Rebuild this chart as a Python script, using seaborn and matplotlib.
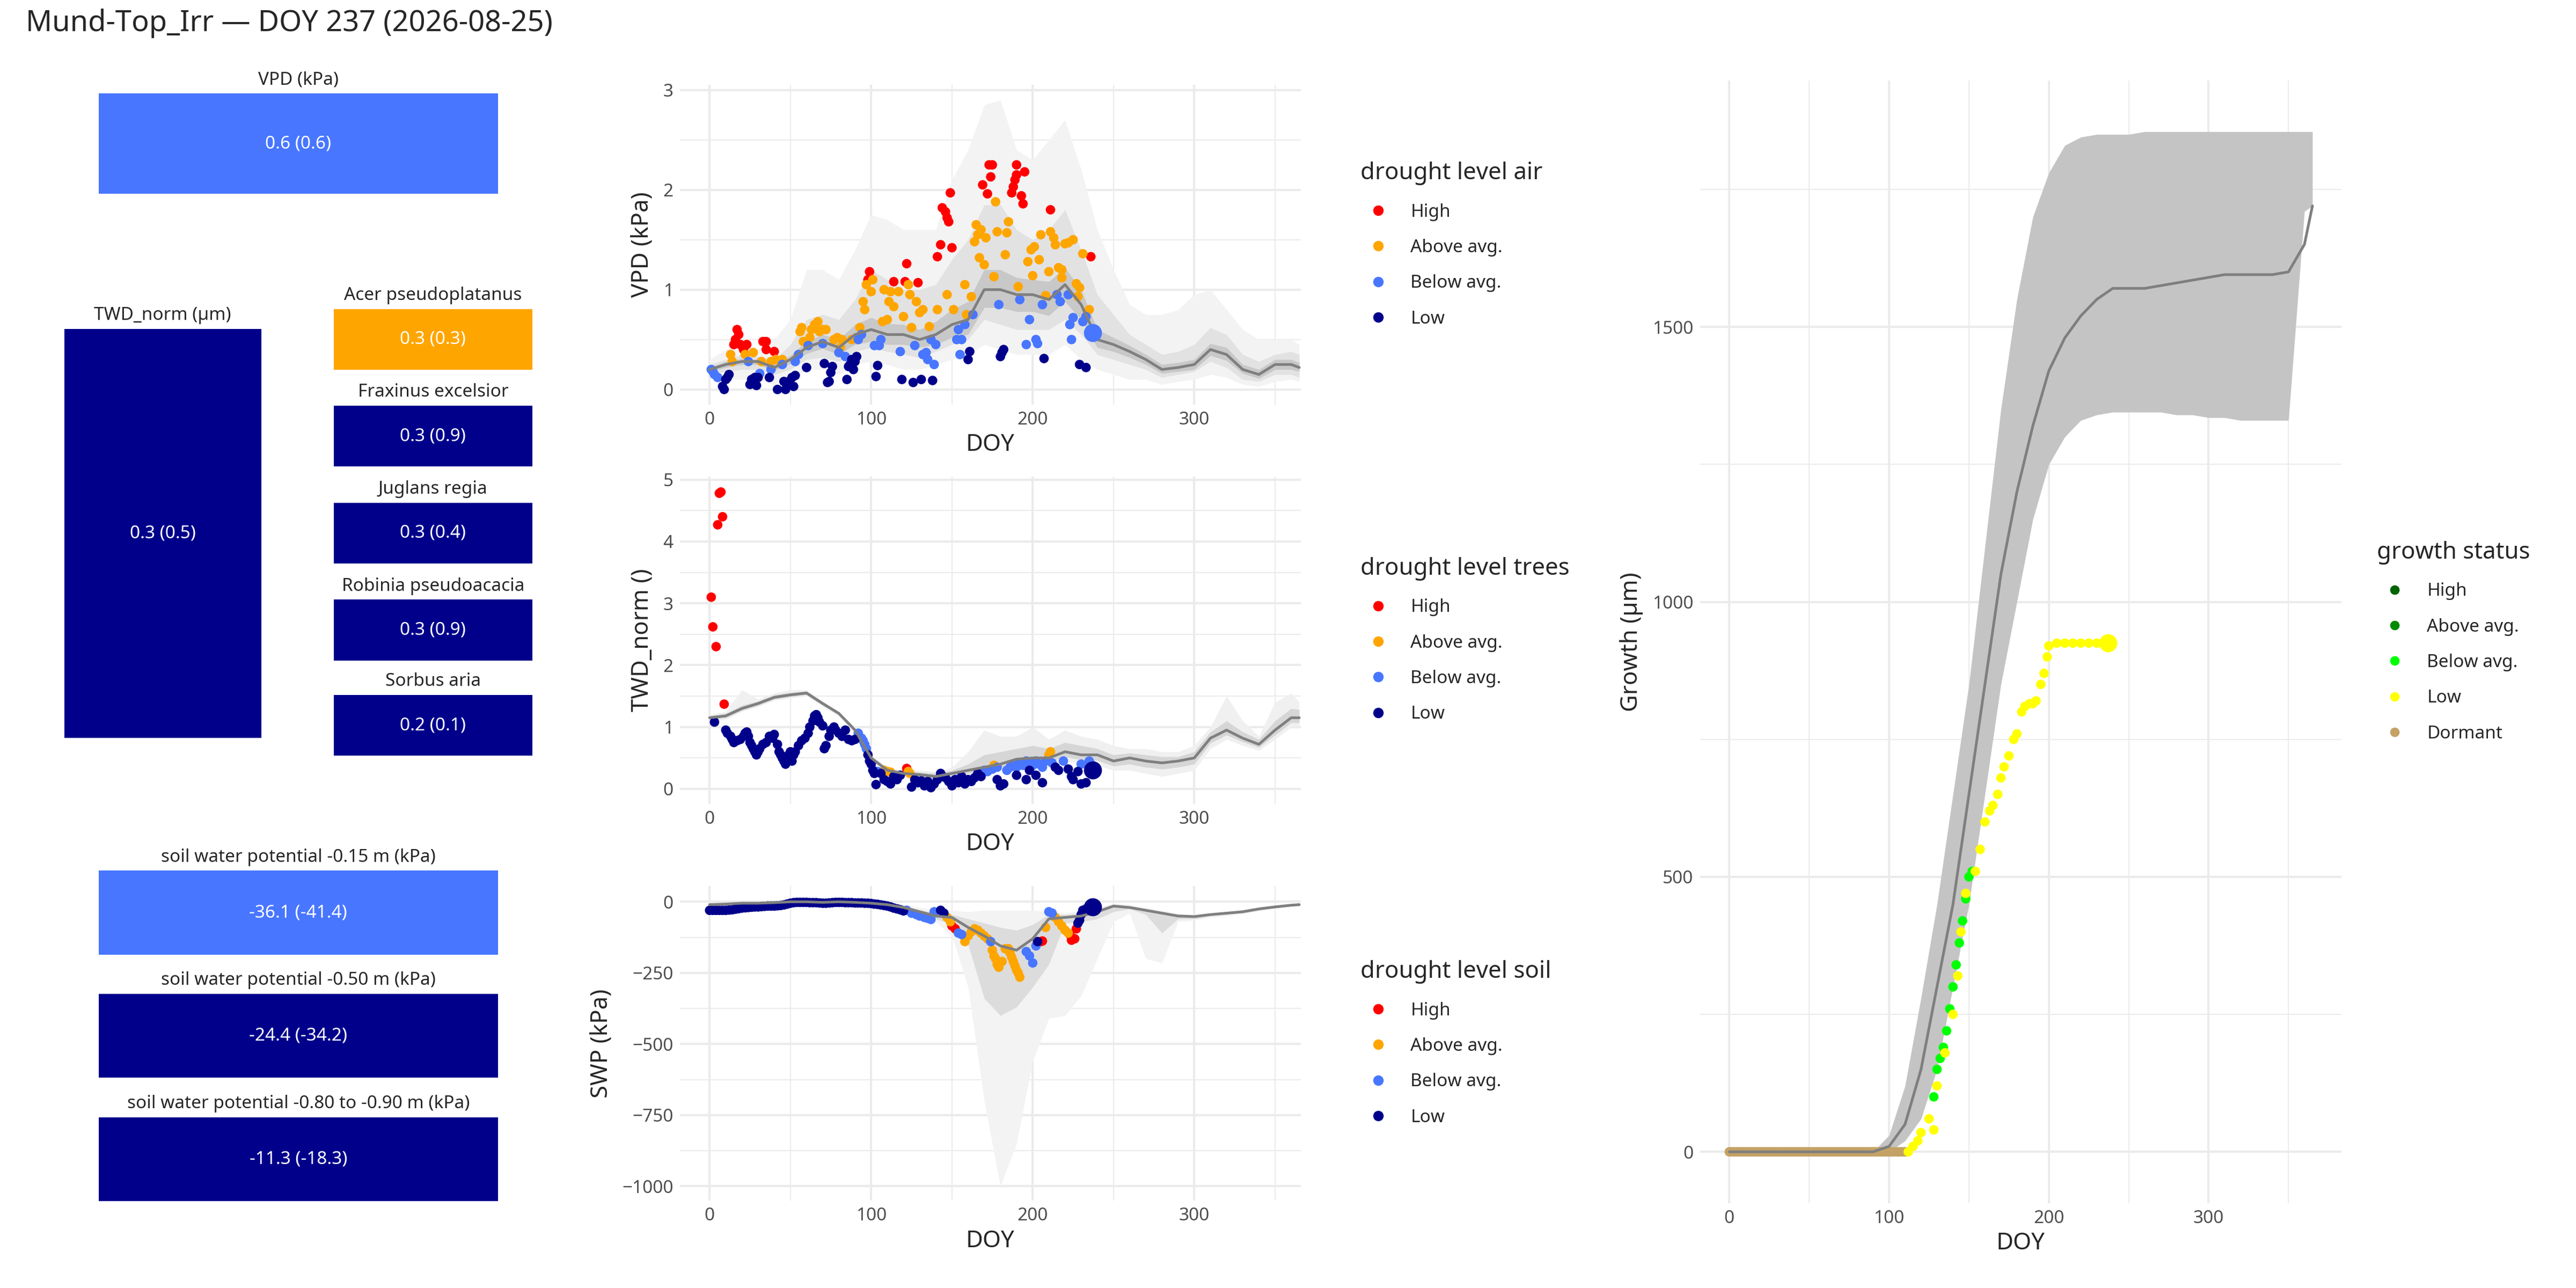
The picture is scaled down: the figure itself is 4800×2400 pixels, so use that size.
import matplotlib
matplotlib.use('Agg')
import matplotlib.pyplot as plt
import numpy as np
import pandas as pd
import seaborn as sns
from matplotlib.ticker import MultipleLocator

sns.set_theme(style='white')
plt.rcParams['font.family'] = ['Noto Sans', 'DejaVu Sans']

LEVELS = ['High', 'Above avg.', 'Below avg.', 'Low']
LEVEL_COLORS = dict(zip(LEVELS, ['#ff0000', '#ffa500', '#4876ff', '#00008b']))
GROWTH_LEVELS = ['High', 'Above avg.', 'Below avg.', 'Low', 'Dormant']
GROWTH_COLORS = dict(zip(GROWTH_LEVELS, ['#006400', '#008b00', '#00ff00', '#ffff00', '#c4a265']))

# ---------------------------------------------------------------------------
# climatology grid (DOY) and envelopes
# ---------------------------------------------------------------------------
grid_doy = [0, 10, 20, 30, 40, 50, 60, 70, 80, 90, 100, 110, 120, 130, 140, 150, 160, 170, 180,
            190, 200, 210, 220, 230, 240, 250, 260, 270, 280, 290, 300, 310, 320, 330, 340, 350, 360, 365]

vpd_mean = [0.2, 0.25, 0.28, 0.28, 0.22, 0.3, 0.42, 0.48, 0.42, 0.55, 0.6, 0.55, 0.55, 0.5, 0.55, 0.65, 0.7,
            1.0, 1.0, 0.95, 0.95, 0.9, 1.05, 0.85, 0.5, 0.45, 0.38, 0.3, 0.2, 0.22, 0.25, 0.4, 0.35, 0.2,
            0.15, 0.25, 0.25, 0.22]
vpd_outer_hi = [0.3, 0.4, 0.45, 0.4, 0.5, 0.7, 1.2, 1.2, 1.1, 1.4, 1.75, 1.7, 1.6, 1.6, 1.6, 2.1, 2.4, 2.85,
                2.9, 2.4, 2.3, 2.5, 2.7, 2.2, 1.6, 1.2, 0.85, 0.75, 0.75, 0.8, 0.95, 1.0, 0.8, 0.6, 0.5,
                0.5, 0.5, 0.45]
vpd_outer_lo = [0.12, 0.1, 0.1, 0.1, 0.05, 0.1, 0.2, 0.2, 0.15, 0.25, 0.28, 0.25, 0.2, 0.2, 0.25, 0.3, 0.35,
                0.45, 0.4, 0.35, 0.35, 0.35, 0.45, 0.3, 0.2, 0.15, 0.1, 0.1, 0.05, 0.08, 0.1, 0.15, 0.12,
                0.05, 0.03, 0.08, 0.1, 0.08]
vpd_mid_hi = [0.25, 0.3, 0.35, 0.33, 0.3, 0.45, 0.7, 0.75, 0.7, 0.9, 1.2, 1.1, 1.0, 1.0, 1.05, 1.3, 1.5, 1.85,
              1.85, 1.6, 1.5, 1.6, 1.8, 1.4, 0.95, 0.75, 0.55, 0.45, 0.35, 0.38, 0.45, 0.62, 0.55, 0.35,
              0.28, 0.35, 0.38, 0.35]
vpd_mid_lo = [0.15, 0.18, 0.2, 0.2, 0.15, 0.2, 0.3, 0.32, 0.28, 0.38, 0.42, 0.38, 0.35, 0.32, 0.38, 0.45, 0.5,
              0.7, 0.65, 0.6, 0.6, 0.6, 0.7, 0.55, 0.35, 0.3, 0.25, 0.2, 0.12, 0.15, 0.18, 0.28, 0.22, 0.1,
              0.08, 0.15, 0.15, 0.12]
vpd_inner_hi = [0.22, 0.28, 0.31, 0.3, 0.25, 0.34, 0.48, 0.55, 0.5, 0.65, 0.72, 0.66, 0.65, 0.6, 0.68, 0.8,
                0.88, 1.2, 1.2, 1.12, 1.1, 1.08, 1.22, 1.0, 0.6, 0.52, 0.44, 0.35, 0.25, 0.27, 0.3, 0.46,
                0.42, 0.25, 0.2, 0.3, 0.3, 0.27]
vpd_inner_lo = [0.18, 0.22, 0.25, 0.25, 0.19, 0.26, 0.36, 0.41, 0.35, 0.45, 0.48, 0.45, 0.45, 0.42, 0.45,
                0.52, 0.55, 0.82, 0.82, 0.78, 0.78, 0.74, 0.88, 0.7, 0.42, 0.38, 0.32, 0.25, 0.16, 0.18,
                0.2, 0.34, 0.29, 0.16, 0.11, 0.2, 0.2, 0.18]

twd_mean = [1.15, 1.18, 1.3, 1.38, 1.48, 1.52, 1.55, 1.38, 1.22, 0.95, 0.5, 0.3, 0.25, 0.23, 0.2, 0.25, 0.3,
            0.35, 0.4, 0.48, 0.5, 0.5, 0.6, 0.55, 0.55, 0.45, 0.5, 0.45, 0.42, 0.45, 0.5, 0.82, 0.95, 0.82,
            0.72, 0.95, 1.15, 1.15]
twd_outer_hi = [1.2, 1.25, 1.6, 1.45, 1.55, 1.6, 1.6, 1.42, 1.25, 1.0, 0.55, 0.35, 0.3, 0.3, 0.28, 0.35, 0.6,
                0.95, 0.85, 0.85, 1.0, 0.8, 0.95, 0.85, 0.8, 0.7, 0.65, 0.65, 0.6, 0.6, 0.7, 1.0, 1.5, 1.1,
                0.85, 1.4, 1.55, 1.4]
twd_outer_lo = [1.1, 1.12, 1.25, 1.33, 1.43, 1.47, 1.5, 1.33, 1.17, 0.9, 0.45, 0.25, 0.2, 0.15, 0.12, 0.15,
                0.2, 0.25, 0.3, 0.35, 0.35, 0.35, 0.45, 0.4, 0.38, 0.3, 0.3, 0.25, 0.2, 0.25, 0.3, 0.65, 0.8,
                0.7, 0.62, 0.8, 1.0, 1.0]
twd_mid_hi = [1.18, 1.22, 1.35, 1.42, 1.52, 1.56, 1.58, 1.4, 1.24, 0.98, 0.52, 0.32, 0.28, 0.27, 0.25, 0.3,
              0.4, 0.55, 0.6, 0.65, 0.7, 0.65, 0.75, 0.7, 0.65, 0.55, 0.58, 0.55, 0.52, 0.52, 0.6, 0.92, 1.1,
              0.92, 0.8, 1.1, 1.3, 1.28]
twd_mid_lo = [1.12, 1.15, 1.27, 1.35, 1.45, 1.49, 1.52, 1.35, 1.2, 0.92, 0.48, 0.27, 0.22, 0.19, 0.16, 0.2,
              0.25, 0.3, 0.35, 0.42, 0.43, 0.43, 0.52, 0.47, 0.46, 0.37, 0.4, 0.35, 0.32, 0.35, 0.4, 0.74,
              0.87, 0.76, 0.67, 0.87, 1.07, 1.07]

swp_mean = [-10, -8, -5, -5, -3, 0, 0, -2, 0, -2, -5, -10, -20, -35, -50, -55, -90, -120, -155, -170, -130,
            -60, -55, -50, -35, -15, -20, -30, -40, -50, -52, -45, -40, -35, -25, -18, -12, -10]
swp_outer_hi = [-2, -2, 0, 0, 0, 0, 0, 0, 0, 0, -2, -5, -10, -20, -28, -30, -35, -30, -30, -30, -30, -35,
                -40, -30, -20, -5, -10, -20, -30, -40, -45, -40, -35, -28, -20, -12, -8, -6]
swp_outer_lo = [-15, -12, -10, -10, -8, -5, -5, -6, -5, -6, -10, -15, -30, -45, -70, -120, -300, -700,
                -1000, -850, -560, -410, -400, -330, -200, -70, -40, -200, -215, -70, -65, -55, -50, -42,
                -32, -25, -18, -15]
swp_mid_hi = [-5, -4, -2, -2, -1, 0, 0, 0, 0, 0, -3, -7, -15, -28, -40, -45, -60, -75, -90, -100, -80,
              -45, -45, -40, -28, -10, -15, -25, -35, -45, -48, -42, -38, -32, -22, -15, -10, -8]
swp_mid_lo = [-13, -11, -8, -8, -6, -3, -3, -4, -3, -4, -8, -13, -25, -42, -60, -80, -150, -340, -400,
              -370, -300, -220, -75, -70, -60, -35, -25, -45, -110, -60, -60, -50, -45, -40, -30, -22, -15,
              -12]

# ---------------------------------------------------------------------------
# current year observations (DOY, value) per drought level
# ---------------------------------------------------------------------------
vpd_high = [(17, 0.6), (18, 0.55), (16, 0.5), (15, 0.45), (19, 0.45), (21, 0.4), (23, 0.45), (33, 0.48),
            (35, 0.48), (35, 0.4), (40, 0.38), (98, 1.1), (99, 1.18), (114, 1.08), (122, 1.26), (121, 1.08),
            (129, 1.07), (141, 1.33), (143, 1.45), (144, 1.82), (146, 1.78), (147, 1.72), (148, 1.68),
            (149, 1.97), (150, 1.42), (169, 2.05), (172, 1.96), (173, 2.25), (174, 2.13), (175, 2.25),
            (187, 1.97), (188, 2.03), (189, 2.1), (190, 2.15), (190, 2.25), (193, 1.94), (194, 1.86),
            (195, 2.18), (211, 1.8), (236, 1.33)]
vpd_above = [(13, 0.35), (14, 0.28), (22, 0.35), (27, 0.37), (32, 0.28), (38, 0.28), (41, 0.3), (45, 0.3),
             (56, 0.58), (57, 0.62), (58, 0.48), (62, 0.52), (63, 0.6), (65, 0.65), (67, 0.68), (68, 0.58),
             (70, 0.6), (72, 0.6), (77, 0.5), (79, 0.52), (81, 0.42), (82, 0.5), (88, 0.5), (93, 0.62),
             (95, 0.88), (96, 0.8), (97, 1.05), (100, 0.98), (101, 1.1), (107, 0.68), (108, 1.0), (110, 0.7),
             (111, 0.88), (112, 0.98), (114, 0.83), (117, 0.98), (120, 0.73), (123, 1.05), (124, 0.95),
             (125, 0.62), (128, 0.88), (130, 0.77), (132, 0.8), (136, 0.63), (141, 0.8), (147, 0.95),
             (151, 0.8), (158, 1.05), (159, 0.75), (162, 0.93), (164, 1.48), (165, 1.65), (166, 1.55),
             (167, 1.32), (168, 1.6), (170, 1.25), (171, 1.52), (176, 1.13), (177, 1.88), (178, 1.58),
             (183, 1.35), (184, 1.57), (185, 1.68), (191, 1.03), (197, 1.28), (199, 1.4), (200, 1.14),
             (201, 1.43), (204, 1.3), (205, 1.55), (208, 0.94), (210, 1.18), (211, 1.58), (213, 1.52),
             (214, 1.45), (216, 1.22), (218, 1.2), (218, 1.12), (220, 1.46), (222, 1.47), (225, 1.5),
             (227, 1.06), (228, 0.93), (229, 1.02), (231, 1.36), (235, 0.8)]
vpd_below = [(1, 0.2), (2, 0.18), (3, 0.15), (5, 0.12), (24, 0.28), (31, 0.16), (38, 0.2), (45, 0.25),
             (53, 0.28), (55, 0.35), (61, 0.44), (70, 0.46), (80, 0.37), (84, 0.33), (92, 0.5), (94, 0.55),
             (102, 0.44), (105, 0.44), (106, 0.5), (118, 0.38), (127, 0.44), (132, 0.35), (134, 0.37),
             (135, 0.3), (137, 0.5), (139, 0.25), (140, 0.45), (153, 0.5), (154, 0.6), (155, 0.35),
             (156, 0.5), (158, 0.65), (163, 0.75), (179, 0.85), (192, 0.9), (196, 0.45), (198, 0.7),
             (202, 0.5), (203, 0.46), (206, 0.85), (215, 0.95), (217, 0.88), (222, 0.95), (223, 0.65),
             (224, 0.5), (225, 0.72), (231, 0.68), (233, 0.73)]
vpd_low = [(8, 0.03), (9, 0.0), (10, 0.1), (11, 0.12), (12, 0.15), (25, 0.05), (26, 0.1), (28, 0.12),
           (29, 0.04), (30, 0.12), (37, 0.12), (42, 0.0), (46, 0.08), (47, 0.0), (49, 0.08), (51, 0.12),
           (52, 0.03), (53, 0.14), (60, 0.22), (71, 0.26), (73, 0.07), (74, 0.08), (75, 0.17), (76, 0.23),
           (85, 0.1), (86, 0.23), (87, 0.25), (88, 0.3), (89, 0.2), (90, 0.28), (91, 0.33), (103, 0.13),
           (104, 0.24), (119, 0.1), (126, 0.07), (131, 0.1), (138, 0.09), (160, 0.3), (161, 0.38),
           (180, 0.33), (181, 0.37), (182, 0.4), (207, 0.31), (229, 0.25), (233, 0.22)]
vpd_today = (237, 0.57, 'Below avg.')

twd_high = [(1, 3.1), (2, 2.62), (4, 2.3), (5, 4.27), (6, 4.78), (7, 4.8), (8, 4.4), (9, 1.37), (122, 0.33)]
twd_above = [(108, 0.3), (110, 0.28), (112, 0.27), (123, 0.28), (124, 0.25), (176, 0.38), (210, 0.55),
             (211, 0.6)]
twd_below = [(92, 0.9), (94, 0.82), (95, 0.78), (96, 0.72), (97, 0.65), (104, 0.28), (170, 0.3), (172, 0.28),
             (175, 0.32), (178, 0.35), (184, 0.3), (186, 0.35), (188, 0.38), (190, 0.35), (192, 0.42),
             (194, 0.38), (196, 0.45), (198, 0.42), (200, 0.38), (202, 0.45), (204, 0.4), (206, 0.35),
             (208, 0.45), (212, 0.42), (219, 0.45), (230, 0.4), (235, 0.45), (236, 0.4)]
twd_low = [(3, 1.08), (10, 0.95), (11, 0.9), (13, 0.85), (14, 0.8), (15, 0.75), (17, 0.78), (19, 0.8),
           (21, 0.85), (22, 0.9), (23, 0.92), (24, 0.85), (25, 0.75), (26, 0.7), (27, 0.65), (28, 0.6),
           (29, 0.55), (30, 0.6), (31, 0.65), (33, 0.72), (35, 0.75), (37, 0.85), (39, 0.82), (40, 0.88),
           (42, 0.72), (43, 0.6), (44, 0.55), (45, 0.5), (46, 0.45), (47, 0.4), (48, 0.5), (49, 0.55),
           (50, 0.6), (51, 0.45), (52, 0.55), (53, 0.6), (55, 0.7), (57, 0.78), (59, 0.82), (61, 0.9),
           (62, 1.0), (64, 1.1), (65, 1.18), (66, 1.2), (67, 1.15), (68, 1.08), (70, 1.02), (71, 0.65),
           (72, 0.7), (74, 0.85), (75, 0.95), (77, 1.0), (78, 0.95), (80, 0.9), (82, 0.85), (84, 0.95),
           (86, 0.8), (88, 0.78), (90, 0.8), (98, 0.55), (99, 0.45), (100, 0.4), (101, 0.3), (102, 0.25),
           (103, 0.07), (106, 0.25), (108, 0.15), (110, 0.12), (112, 0.08), (114, 0.2), (116, 0.15),
           (118, 0.22), (125, 0.03), (127, 0.15), (129, 0.1), (131, 0.13), (133, 0.05), (135, 0.12),
           (137, 0.02), (139, 0.08), (141, 0.15), (143, 0.25), (146, 0.18), (148, 0.12), (150, 0.05),
           (152, 0.15), (154, 0.1), (156, 0.2), (158, 0.08), (160, 0.15), (162, 0.12), (164, 0.18),
           (166, 0.25), (168, 0.2), (178, 0.15), (180, 0.05), (182, 0.08), (190, 0.22), (196, 0.15),
           (198, 0.3), (202, 0.22), (206, 0.1), (214, 0.35), (216, 0.3), (222, 0.32), (224, 0.2),
           (225, 0.15), (228, 0.28), (230, 0.08), (233, 0.1)]
twd_today = (237, 0.3, 'Low')

swp_high = [(150, -85), (152, -95), (205, -140), (206, -138), (223, -115), (224, -135), (226, -130),
            (227, -95)]
swp_above = [(147, -55), (149, -70), (158, -140), (160, -120), (162, -105), (164, -95), (166, -100),
             (168, -110), (170, -120), (172, -130), (175, -170), (176, -190), (177, -200), (178, -220),
             (179, -230), (181, -210), (183, -165), (185, -165), (186, -180), (187, -195), (188, -210),
             (189, -225), (190, -240), (191, -250), (192, -265), (208, -90), (214, -55), (216, -70),
             (218, -85), (220, -100), (222, -110)]
swp_below = [(122, -30), (125, -40), (128, -45), (130, -50), (133, -55), (135, -58), (137, -62), (139, -35),
             (154, -110), (156, -115), (174, -140), (196, -175), (198, -190), (200, -215), (202, -155),
             (210, -35), (212, -40)]
swp_low = [(0, -30), (2, -30), (4, -30), (6, -30), (8, -30), (10, -30), (12, -29), (14, -28), (16, -26),
           (18, -24), (20, -22), (22, -21), (24, -20), (26, -19), (28, -18), (30, -18), (32, -17), (34, -16),
           (36, -15), (38, -15), (40, -15), (42, -14), (44, -13), (46, -11), (48, -8), (50, -5), (52, -3),
           (54, -2), (56, -2), (58, -2), (60, -2), (62, -3), (64, -3), (66, -3), (68, -4), (70, -5), (72, -5),
           (74, -4), (76, -3), (78, -2), (80, -2), (82, -2), (84, -3), (86, -3), (88, -3), (90, -4), (92, -4),
           (94, -4), (96, -5), (98, -5), (100, -6), (102, -8), (104, -9), (106, -11), (108, -13), (110, -15),
           (112, -18), (114, -22), (116, -25), (118, -28), (120, -32), (143, -30), (145, -40), (203, -140),
           (228, -75), (229, -65), (230, -45), (231, -30), (233, -25), (235, -20)]
swp_today = (237, -18, 'Low')

# growth (µm)
growth_mean = [0, 0, 0, 0, 0, 0, 0, 0, 0, 0, 10, 50, 150, 300, 450, 650, 850, 1050, 1200, 1320, 1420, 1480,
               1520, 1550, 1570, 1570, 1570, 1575, 1580, 1585, 1590, 1595, 1595, 1595, 1595, 1600, 1650, 1720]
growth_hi = [0, 0, 0, 0, 0, 0, 0, 0, 0, 0, 30, 120, 280, 450, 650, 850, 1100, 1350, 1550, 1700, 1780, 1830,
             1845, 1850, 1850, 1850, 1855, 1855, 1855, 1855, 1855, 1855, 1855, 1855, 1855, 1855, 1855, 1855]
growth_lo = [0, 0, 0, 0, 0, 0, 0, 0, 0, 0, 0, 20, 60, 150, 300, 450, 650, 850, 1000, 1150, 1250, 1300, 1330,
             1340, 1345, 1345, 1345, 1345, 1340, 1340, 1335, 1335, 1330, 1330, 1330, 1330, 1710, 1720]
growth_dormant_doy = list(range(0, 112))
growth_below = [(128, 100), (130, 150), (132, 170), (134, 190), (136, 220), (138, 260), (140, 300),
                (142, 340), (144, 380), (146, 420), (148, 460), (150, 500), (152, 510)]
growth_low = [(112, 0), (115, 10), (118, 20), (120, 35), (125, 60), (128, 40), (130, 120), (135, 180),
              (140, 250), (143, 320), (145, 400), (148, 470), (154, 510), (157, 550), (160, 600), (163, 620),
              (165, 630), (168, 650), (170, 680), (172, 700), (175, 720), (178, 750), (180, 760), (183, 800),
              (185, 810), (188, 815), (190, 815), (192, 820), (195, 850), (197, 870), (199, 900), (200, 920),
              (205, 925), (210, 925), (215, 925), (220, 925), (225, 925), (230, 925), (235, 925)]
growth_today = (237, 925, 'Low')

# tiles
vpd_tile = ('VPD (kPa)', '0.6 (0.6)', '#4876ff')
twd_tile = ('TWD_norm (µm)', '0.3 (0.5)', '#00008b')
species_names = ['Acer pseudoplatanus', 'Fraxinus excelsior', 'Juglans regia', 'Robinia pseudoacacia',
                 'Sorbus aria']
species_values = ['0.3 (0.3)', '0.3 (0.9)', '0.3 (0.4)', '0.3 (0.9)', '0.2 (0.1)']
species_colors = ['#ffa500', '#00008b', '#00008b', '#00008b', '#00008b']
soil_names = ['soil water potential -0.15 m (kPa)', 'soil water potential -0.50 m (kPa)',
              'soil water potential -0.80 to -0.90 m (kPa)']
soil_values = ['-36.1 (-41.4)', '-24.4 (-34.2)', '-11.3 (-18.3)']
soil_colors = ['#4876ff', '#00008b', '#00008b']

# ---------------------------------------------------------------------------
fig = plt.figure(figsize=(16, 8), dpi=300)
fig.text(0.01, 0.982, 'Mund-Top_Irr — DOY 237 (2026-08-25)', fontsize=13, va='center')


def tile(rect, title, value, color):
    ax = fig.add_axes(rect)
    ax.set_facecolor(color)
    ax.set_xticks([])
    ax.set_yticks([])
    for s in ax.spines.values():
        s.set_visible(False)
    ax.text(0.5, 0.5, value, color='white', ha='center', va='center', fontsize=8, transform=ax.transAxes)
    ax.set_title(title, fontsize=8, pad=4)


tile([0.0383, 0.8495, 0.155, 0.0778], *vpd_tile)
tile([0.0249, 0.427, 0.0765, 0.3176], *twd_tile)
for i, (n, v, c) in enumerate(zip(species_names, species_values, species_colors)):
    top = [188, 247, 306, 365, 423][i]
    tile([0.1295, 1 - (top + 37) / 784, 0.0772, 37 / 784], n, v, c)
for i, (n, v, c) in enumerate(zip(soil_names, soil_values, soil_colors)):
    top = [530, 605, 680][i]
    tile([0.0383, 1 - (top + 51) / 784, 0.155, 51 / 784], n, v, c)


def style(ax, xstep, ystep):
    ax.set_facecolor('white')
    for s in ax.spines.values():
        s.set_visible(False)
    ax.xaxis.set_major_locator(MultipleLocator(xstep))
    ax.xaxis.set_minor_locator(MultipleLocator(xstep / 2))
    ax.yaxis.set_major_locator(MultipleLocator(ystep))
    ax.yaxis.set_minor_locator(MultipleLocator(ystep / 2))
    ax.grid(which='major', color='#ebebeb', lw=1.0)
    ax.grid(which='minor', color='#ebebeb', lw=0.5)
    ax.set_axisbelow(True)
    ax.tick_params(which='both', length=0, labelsize=8, labelcolor='#4d4d4d', pad=3)


def to_df(groups):
    rows = []
    for lvl, pts in groups:
        rows += [(d, v, lvl) for d, v in pts]
    return pd.DataFrame(rows, columns=['DOY', 'value', 'level'])


def drought_panel(rect, bands, mean, groups, today, ylim, ystep, ylabel, legend_title):
    ax = fig.add_axes(rect)
    for (lo, hi), col in bands:
        ax.fill_between(grid_doy, lo, hi, color=col, lw=0)
    sns.lineplot(x=grid_doy, y=mean, color='#7f7f7f', lw=1.2, ax=ax)
    df = to_df(groups)
    sns.scatterplot(data=df, x='DOY', y='value', hue='level', hue_order=LEVELS, palette=LEVEL_COLORS,
                    s=18, linewidth=0, ax=ax)
    ax.scatter([today[0]], [today[1]], s=65, color=LEVEL_COLORS[today[2]], lw=0, zorder=5)
    ax.set_xlim(-18.3, 366)
    ax.set_ylim(*ylim)
    style(ax, 100, ystep)
    ax.set_xlabel('DOY', fontsize=10.5, labelpad=2)
    ax.set_ylabel(ylabel, fontsize=10.5)
    ax.legend(title=legend_title, loc='center left', bbox_to_anchor=(1.07, 0.5), frameon=False,
              fontsize=8, title_fontsize=10.5, markerscale=1.1, labelspacing=1.0, alignment='left')
    return ax


drought_panel([0.264, 0.686, 0.241, 0.248],
              [((vpd_outer_lo, vpd_outer_hi), '#f3f3f3'), ((vpd_mid_lo, vpd_mid_hi), '#e2e2e2'),
               ((vpd_inner_lo, vpd_inner_hi), '#c8c8c8')],
              vpd_mean, [('High', vpd_high), ('Above avg.', vpd_above), ('Below avg.', vpd_below),
                         ('Low', vpd_low)], vpd_today, (-0.15, 3.05), 1, 'VPD (kPa)', 'drought level air')

drought_panel([0.264, 0.376, 0.241, 0.254],
              [((twd_outer_lo, twd_outer_hi), '#f0f0f0'), ((twd_mid_lo, twd_mid_hi), '#d6d6d6')],
              twd_mean, [('High', twd_high), ('Above avg.', twd_above), ('Below avg.', twd_below),
                         ('Low', twd_low)], twd_today, (-0.24, 5.05), 1, 'TWD_norm ()', 'drought level trees')

drought_panel([0.264, 0.068, 0.241, 0.244],
              [((swp_outer_lo, swp_outer_hi), '#f3f3f3'), ((swp_mid_lo, swp_mid_hi), '#dcdcdc')],
              swp_mean, [('High', swp_high), ('Above avg.', swp_above), ('Below avg.', swp_below),
                         ('Low', swp_low)], swp_today, (-1050, 55), 250, 'SWP (kPa)', 'drought level soil')

# growth panel
ax = fig.add_axes([0.660, 0.066, 0.249, 0.8715])
ax.fill_between(grid_doy, growth_lo, growth_hi, color='#c4c4c4', lw=0)
sns.lineplot(x=grid_doy, y=growth_mean, color='#7f7f7f', lw=1.2, ax=ax)
gdf = pd.concat([pd.DataFrame({'DOY': growth_dormant_doy, 'value': 0, 'level': 'Dormant'}),
                 to_df([('Below avg.', growth_below), ('Low', growth_low)])])
sns.scatterplot(data=gdf, x='DOY', y='value', hue='level', hue_order=GROWTH_LEVELS, palette=GROWTH_COLORS,
                s=18, linewidth=0, ax=ax)
ax.scatter([growth_today[0]], [growth_today[1]], s=65, color=GROWTH_COLORS[growth_today[2]], lw=0, zorder=5)
ax.set_xlim(-18.25, 383.25)
ax.set_ylim(-93, 1948)
style(ax, 100, 500)
ax.set_xlabel('DOY', fontsize=10.5, labelpad=2)
ax.set_ylabel('Growth (µm)', fontsize=10.5)
ax.legend(title='growth status', loc='center left', bbox_to_anchor=(1.03, 0.5), frameon=False, fontsize=8,
          title_fontsize=10.5, labelspacing=1.0, alignment='left')

fig.savefig('out.png', dpi=300, facecolor='white')
